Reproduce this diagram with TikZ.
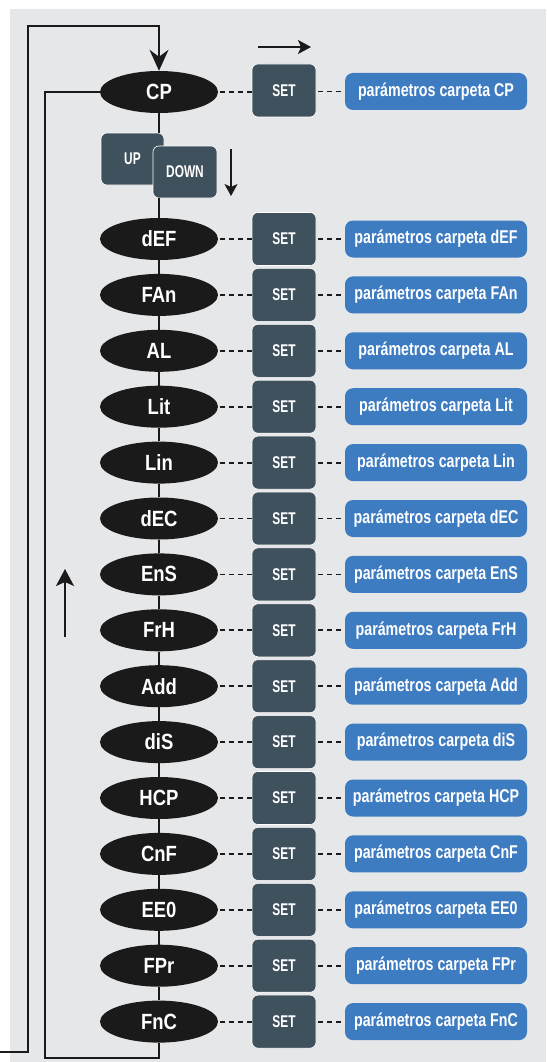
\documentclass[tikz,border=0pt]{standalone}
\usepackage{fontspec}
\setmainfont{Liberation Sans}
\newfontfamily\ellfont{Liberation Sans}[FakeStretch=0.84]
\newfontfamily\keyfont{Liberation Sans}[FakeStretch=0.70]
\newfontfamily\parfont{Liberation Sans}[FakeStretch=0.77]
\usetikzlibrary{shapes.geometric,arrows.meta}
\definecolor{bg}{HTML}{E6E7E9}
\definecolor{setc}{HTML}{3F515C}
\definecolor{bluec}{HTML}{3E7CC2}
\definecolor{ellc}{HTML}{1A1A1A}
\begin{document}
\begin{tikzpicture}[x=1pt,y=-1pt,
 folder/.style={ellipse, fill=ellc, text=white, minimum width=118pt, minimum height=42pt, inner sep=0pt, font=\ellfont\bfseries\fontsize{22}{22}\selectfont},
 setbox/.style={rectangle, rounded corners=6pt, fill=setc, draw=white, line width=0.6pt, text=white, minimum width=64pt, minimum height=53pt, inner sep=0pt, font=\keyfont\bfseries\fontsize{17}{17}\selectfont},
 keybox/.style={setbox, minimum width=63pt, minimum height=52pt},
 parbox/.style={rectangle, rounded corners=8pt, fill=bluec, text=white, minimum width=182pt, minimum height=37pt, inner sep=0pt, font=\parfont\bfseries\fontsize{18.5}{18.5}\selectfont},
 dashc/.style={line width=1.8pt, ellc, dash pattern=on 4.5pt off 4.5pt, dash phase=-2pt},
 loopl/.style={line width=2pt, ellc},
 arrl/.style={line width=1.5pt, ellc},
]
\useasboundingbox (0,0) rectangle (546,1062);
\fill[bg] (10,9) rectangle (546,1062);

% CP row
\node[folder] (cp) at (159,92) {CP};
\node[setbox] (cps) at (284,90.5) {SET};
\node[parbox] (cpp) at (436,91.5) {parámetros carpeta CP};
\draw[dashc] (cp) -- (cp -| cps.west);
\draw[dashc] (cps.east |- cpp) -- (cpp);

% UP / DOWN keys
\node[keybox] (up) at (132.5,159) {UP};
\node[keybox, minimum width=64pt] (down) at (185,172) {DOWN};

% rows
\foreach \n [count=\i from 0] in {dEF,FAn,AL,Lit,Lin,dEC,EnS,FrH,Add,diS,HCP,CnF,EE0,FPr,FnC} {
  \pgfmathsetmacro\yy{239+55.9*\i}
  \node[folder] (f\i) at (159,\yy) {\n};
  \node[setbox] (s\i) at (284,\yy) {SET};
  \node[parbox] (p\i) at (436,\yy) {parámetros carpeta \n};
  \draw[dashc] (f\i) -- (s\i);
  \draw[dashc] (s\i) -- (p\i);
}

% vertical chain
\draw[loopl] (cp.south) -- (cp.south |- up.north);
\draw[loopl] (cp.south |- down.south) -- (f0.north);
\foreach \i in {1,...,14} {
  \pgfmathtruncatemacro\k{\i-1}
  \draw[loopl] (f\k.south) -- (f\i.north);
}

% outer loop
\coordinate (ol) at (0,1052);
\coordinate (oc) at (28,26);
\draw[loopl, -{Stealth[length=21pt,width=19pt,inset=7pt]}] (ol) -| (oc) -| (cp.north);

% inner loop
\coordinate (ic) at (45,1058);
\draw[loopl] (cp.west) -| (ic) -| (f14.south);

% direction arrows
\coordinate (r1) at (258,47);
\coordinate (r2) at (311,47);
\draw[arrl, -{Stealth[length=13pt,width=14pt,inset=3pt]}] (r1) -- (r2);
\coordinate (d1) at (231,149);
\coordinate (d2) at (231,196);
\draw[arrl, -{Stealth[length=12pt,width=13pt,inset=3pt]}] (d1) -- (d2);
\coordinate (u1) at (65,637);
\coordinate (u2) at (65,569);
\draw[arrl, -{Stealth[length=17pt,width=18pt,inset=4pt]}] (u1) -- (u2);
\end{tikzpicture}
\end{document}
